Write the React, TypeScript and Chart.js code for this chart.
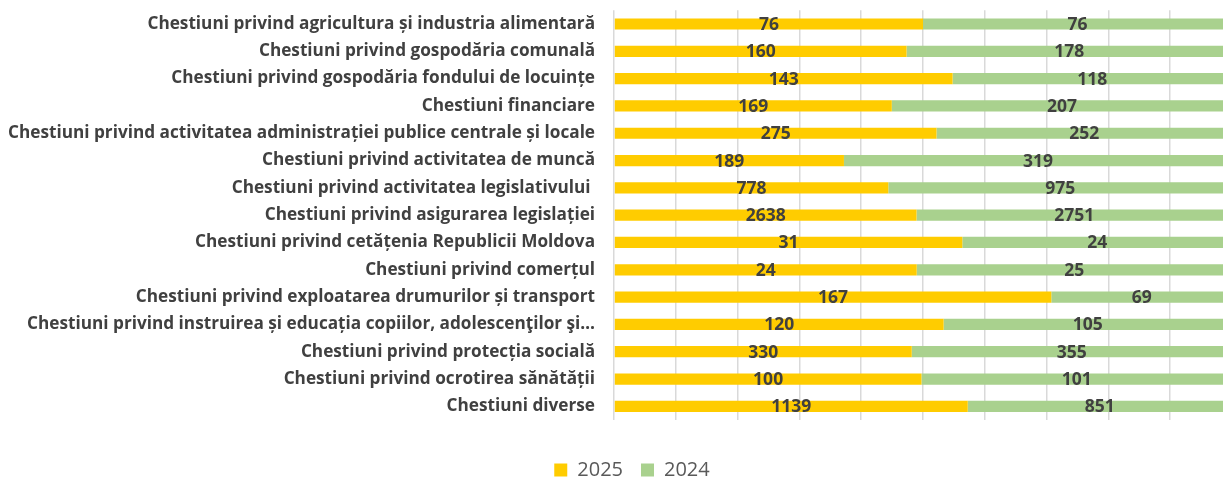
import React, { useEffect, useRef } from "react";
import { Chart, registerables } from "chart.js";

Chart.register(...registerables);

const categories: string[] = [
  "Chestiuni privind agricultura și industria alimentară",
  "Chestiuni privind gospodăria comunală",
  "Chestiuni privind gospodăria fondului de locuințe",
  "Chestiuni financiare",
  "Chestiuni privind activitatea administrației publice centrale și locale",
  "Chestiuni privind activitatea de muncă",
  "Chestiuni privind activitatea legislativului ",
  "Chestiuni privind asigurarea legislației",
  "Chestiuni privind cetățenia Republicii Moldova",
  "Chestiuni privind comerțul",
  "Chestiuni privind exploatarea drumurilor și transport",
  "Chestiuni privind instruirea și educația copiilor, adolescenţilor şi…",
  "Chestiuni privind protecția socială",
  "Chestiuni privind ocrotirea sănătății",
  "Chestiuni diverse",
];

const values2025: number[] = [76, 160, 143, 169, 275, 189, 778, 2638, 31, 24, 167, 120, 330, 100, 1139];
const values2024: number[] = [76, 178, 118, 207, 252, 319, 975, 2751, 24, 25, 69, 105, 355, 101, 851];

const seriesNames: string[] = ["2025", "2024"];
const FONT = "'Open Sans', sans-serif";

const valueLabels = {
  id: "valueLabels",
  afterLayout(chart: any) {
    if (chart.legend) {
      chart.legend.left += 12;
      chart.legend.right += 12;
    }
  },
  afterDatasetsDraw(chart: any) {
    const ctx = chart.ctx;
    ctx.save();
    ctx.font = `bold 17.5px ${FONT}`;
    ctx.fillStyle = "#404040";
    ctx.textAlign = "center";
    ctx.textBaseline = "middle";
    chart.data.datasets.forEach((ds: any, di: number) => {
      const meta = chart.getDatasetMeta(di);
      meta.data.forEach((el: any, i: number) => {
        const cx = (el.x + el.base) / 2;
        ctx.fillText(String(ds.rawValues[i]), cx, el.y + 1);
      });
    });
    ctx.restore();
  },
};

export default function App() {
  const ref = useRef<HTMLCanvasElement>(null);
  useEffect(() => {
    if (!ref.current) return;
    const totals = values2025.map((v, i) => v + values2024[i]);
    const pct = (arr: number[]) => arr.map((v, i) => (v / totals[i]) * 100);
    const chart = new Chart(ref.current, {
      type: "bar",
      data: {
        labels: categories,
        datasets: [
          {
            label: seriesNames[0],
            data: pct(values2025),
            rawValues: values2025,
            backgroundColor: "#FFCC00",
            barPercentage: 0.82,
            categoryPercentage: 0.5,
          } as any,
          {
            label: seriesNames[1],
            data: pct(values2024),
            rawValues: values2024,
            backgroundColor: "#A9D18E",
            barPercentage: 0.82,
            categoryPercentage: 0.5,
          } as any,
        ],
      },
      options: {
        indexAxis: "y",
        animation: false,
        responsive: false,
        layout: { padding: { top: 0, left: 8, bottom: -9 } },
        scales: {
          x: {
            stacked: true,
            min: 0,
            max: 100,
            ticks: { display: false, stepSize: 10 },
            grid: { color: "#D9D9D9", lineWidth: 1.5, drawTicks: false },
            border: { display: false },
            afterFit: (scale: any) => {
              scale.height = 22;
            },
          },
          y: {
            stacked: true,
            grid: { display: false, drawTicks: true, tickLength: 19 },
            border: { display: false },
            ticks: {
              color: "#404040",
              font: { family: FONT, size: 17.2, weight: "bold" },
              padding: 0,
              autoSkip: false,
            },
          },
        },
        plugins: {
          legend: {
            position: "bottom",
            labels: {
              color: "#595959",
              font: { family: FONT, size: 20 },
              boxWidth: 13,
              boxHeight: 13,
              padding: 18,
            },
          },
          tooltip: { enabled: false },
        },
      },
      plugins: [valueLabels],
    });
    return () => chart.destroy();
  }, []);
  return (
    <div style={{ position: "absolute", left: 0, top: 0, width: 1223, height: 481, overflow: "hidden", background: "#fff" }}>
      <canvas ref={ref} width={1232} height={481} style={{ display: "block" }} />
    </div>
  );
}
